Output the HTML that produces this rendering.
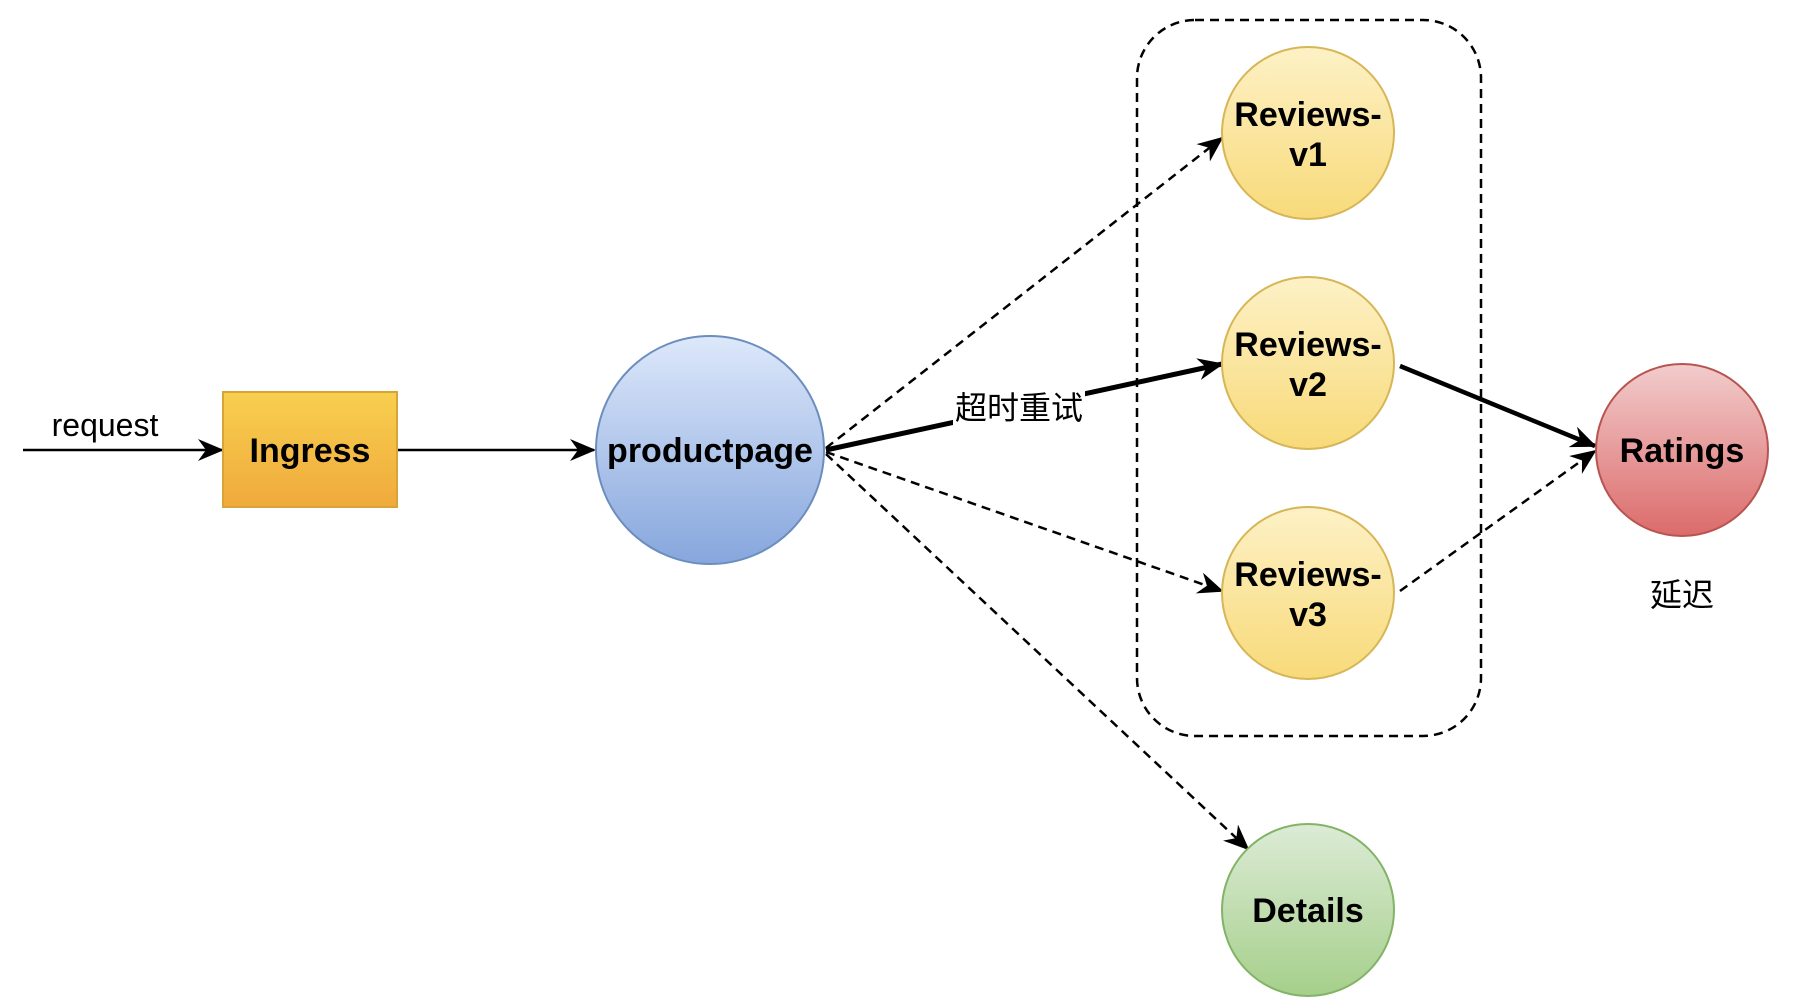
<!DOCTYPE html>
<html><head><meta charset="utf-8"><style>
html,body{margin:0;padding:0;background:#fff;}
svg{display:block;}
text{font-family:"Liberation Sans","Noto Sans CJK SC",sans-serif;}
.b{font-weight:bold;font-size:34px;text-anchor:middle;}
</style></head><body>
<svg width="1796" height="1008" viewBox="0 0 1796 1008" xmlns="http://www.w3.org/2000/svg">
<defs>
<linearGradient id="gy" x1="0" y1="0" x2="0" y2="1"><stop offset="0" stop-color="#fdf1c6"/><stop offset="1" stop-color="#f8da79"/></linearGradient>
<linearGradient id="gb" x1="0" y1="0" x2="0" y2="1"><stop offset="0" stop-color="#dde8fa"/><stop offset="1" stop-color="#86a6dd"/></linearGradient>
<linearGradient id="gr" x1="0" y1="0" x2="0" y2="1"><stop offset="0" stop-color="#f2cccc"/><stop offset="1" stop-color="#dc6b6b"/></linearGradient>
<linearGradient id="gg" x1="0" y1="0" x2="0" y2="1"><stop offset="0" stop-color="#dcebd6"/><stop offset="1" stop-color="#a5cf8a"/></linearGradient>
<linearGradient id="go" x1="0" y1="0" x2="0" y2="1"><stop offset="0" stop-color="#f8cf4f"/><stop offset="1" stop-color="#f0aa3c"/></linearGradient>
<marker id="A" markerWidth="26" markerHeight="22" refX="24" refY="11" orient="auto" markerUnits="userSpaceOnUse" viewBox="0 0 26 22"><path d="M0,0 L26,11 L0,22 L8,11 z" fill="#000"/></marker>
</defs>
<rect x="1137" y="20" width="344" height="716" rx="58" fill="none" stroke="#000" stroke-width="2.5" stroke-dasharray="9,6"/>
<line x1="23" y1="450" x2="222" y2="450" stroke="#000" stroke-width="2.5" marker-end="url(#A)"/>
<line x1="397" y1="450" x2="594" y2="450" stroke="#000" stroke-width="2.5" marker-end="url(#A)"/>
<line x1="826" y1="448" x2="1222" y2="138" stroke="#000" stroke-width="2.5" stroke-dasharray="9,6" marker-end="url(#A)"/>
<line x1="826" y1="452" x2="1222" y2="591" stroke="#000" stroke-width="2.5" stroke-dasharray="9,6" marker-end="url(#A)"/>
<line x1="826" y1="454" x2="1248" y2="849" stroke="#000" stroke-width="2.5" stroke-dasharray="9,6" marker-end="url(#A)"/>
<line x1="826" y1="450" x2="1222" y2="364" stroke="#000" stroke-width="5" marker-end="url(#A)"/>
<line x1="1400" y1="366" x2="1595" y2="446" stroke="#000" stroke-width="4.5" marker-end="url(#A)"/>
<line x1="1400" y1="591" x2="1595" y2="451" stroke="#000" stroke-width="2.5" stroke-dasharray="9,6" marker-end="url(#A)"/>
<rect x="953" y="388" width="132" height="40" fill="#fff"/>
<text x="1019" y="419" font-size="32" text-anchor="middle">超时重试</text>
<rect x="223" y="392" width="174" height="115" fill="url(#go)" stroke="#d6a437" stroke-width="2"/>
<text class="b" x="310" y="462">Ingress</text>
<circle cx="710" cy="450" r="114" fill="url(#gb)" stroke="#6c8ebf" stroke-width="2"/>
<text class="b" x="710" y="462">productpage</text>
<circle cx="1308" cy="133" r="86" fill="url(#gy)" stroke="#d6b656" stroke-width="2"/>
<text class="b" x="1308" y="126">Reviews-</text><text class="b" x="1308" y="166">v1</text>
<circle cx="1308" cy="363" r="86" fill="url(#gy)" stroke="#d6b656" stroke-width="2"/>
<text class="b" x="1308" y="356">Reviews-</text><text class="b" x="1308" y="396">v2</text>
<circle cx="1308" cy="593" r="86" fill="url(#gy)" stroke="#d6b656" stroke-width="2"/>
<text class="b" x="1308" y="586">Reviews-</text><text class="b" x="1308" y="626">v3</text>
<circle cx="1308" cy="910" r="86" fill="url(#gg)" stroke="#82b366" stroke-width="2"/>
<text class="b" x="1308" y="922">Details</text>
<circle cx="1682" cy="450" r="86" fill="url(#gr)" stroke="#b85450" stroke-width="2"/>
<text class="b" x="1682" y="462">Ratings</text>
<text x="105" y="436" font-size="32" text-anchor="middle">request</text>
<text x="1682" y="606" font-size="32" text-anchor="middle">延迟</text>
</svg>
</body></html>
